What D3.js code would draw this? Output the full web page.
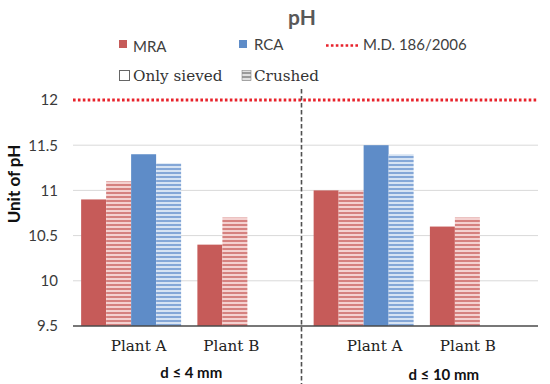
<!DOCTYPE html>
<html>
<head>
<meta charset="utf-8">
<script src="https://cdn.jsdelivr.net/npm/d3@7"></script>
<style>
  body { margin: 0; background: #fff; }
  svg { display: block; }
</style>
</head>
<body>
<div id="chart"></div>
<script>
// values
var categories = ["Plant A|4", "Plant B|4", "Plant A|10", "Plant B|10"];
var plantLabels = ["Plant A", "Plant B", "Plant A", "Plant B"];
var sizeLabels = ["d \u2264 4 mm", "d \u2264 10 mm"];
var seriesKeys = ["mraSieved", "mraCrushed", "rcaSieved", "rcaCrushed"];
var mraSieved = [10.9, 10.4, 11.0, 10.6];
var mraCrushed = [11.1, 10.7, 11.0, 10.7];
var rcaSieved = [11.4, null, 11.5, null];
var rcaCrushed = [11.3, null, 11.4, null];
var yTicks = [9.5, 10, 10.5, 11, 11.5, 12];
var limitValue = 12;

var w = 550, h = 384;
var plotLeft = 73, plotRight = 538, plotTop = 100, plotBottom = 326;

var seriesValues = {
    mraSieved: mraSieved,
    mraCrushed: mraCrushed,
    rcaSieved: rcaSieved,
    rcaCrushed: rcaCrushed
};
var red = "#C65B59", blue = "#5E8CC8";

var svg = d3.select("#chart").append("svg")
    .attr("width", w)
    .attr("height", h);

// striped fills for the crushed bars
var defs = svg.append("defs");
function stripes(id, dark, light) {
    var p = defs.append("pattern")
        .attr("id", id)
        .attr("patternUnits", "userSpaceOnUse")
        .attr("width", 4).attr("height", 4);
    p.append("rect").attr("width", 4).attr("height", 4).attr("fill", light);
    p.append("rect").attr("width", 4).attr("height", 2).attr("fill", dark);
}
stripes("redStripes", "#D5817F", "#F4D1D0");
stripes("blueStripes", "#84A7D7", "#D6E3F3");
stripes("grayStripes", "#9a9a9a", "#e0e0e0");

var fills = {
    mraSieved: red,
    mraCrushed: "url(#redStripes)",
    rcaSieved: blue,
    rcaCrushed: "url(#blueStripes)"
};

var x = d3.scaleBand()
    .domain(categories)
    .range([plotLeft, plotRight])
    .paddingInner(0.14)
    .paddingOuter(0.07);
var xs = d3.scaleBand()
    .domain(seriesKeys)
    .range([0, x.bandwidth()]);
var y = d3.scaleLinear()
    .domain([9.5, 12])
    .range([plotBottom, plotTop]);

// gridlines (12 is covered by the limit line)
svg.append("g")
    .selectAll("line")
    .data(yTicks.filter(function(d) { return d > 9.5 && d < limitValue; }))
    .enter().append("line")
    .attr("x1", plotLeft).attr("x2", plotRight)
    .attr("y1", function(d) { return y(d); })
    .attr("y2", function(d) { return y(d); })
    .attr("stroke", "#d9d9d9")
    .attr("stroke-width", 1);

// bars
var rows = [];
categories.forEach(function(c, i) {
    seriesKeys.forEach(function(k) {
        var v = seriesValues[k][i];
        if (v != null) rows.push({ cat: c, key: k, value: v });
    });
});
svg.append("g")
    .selectAll("rect")
    .data(rows)
    .enter().append("rect")
    .attr("x", function(d) { return x(d.cat) + xs(d.key); })
    .attr("y", function(d) { return y(d.value); })
    .attr("width", xs.bandwidth())
    .attr("height", function(d) { return y(9.5) - y(d.value); })
    .attr("fill", function(d) { return fills[d.key]; });

// y axis
var yAxis = svg.append("g")
    .attr("transform", "translate(" + plotLeft + ",0)")
    .call(d3.axisLeft(y).tickValues(yTicks).tickFormat(d3.format("~g")).tickSize(0).tickPadding(15));
yAxis.select(".domain").remove();
yAxis.selectAll("text")
    .attr("font-family", "Lato, 'Liberation Sans', sans-serif")
    .attr("font-size", 15)
    .attr("fill", "#3a3a3a");

// x baseline
svg.append("line")
    .attr("x1", plotLeft).attr("x2", plotRight)
    .attr("y1", y(9.5)).attr("y2", y(9.5))
    .attr("stroke", "#4a4a4a")
    .attr("stroke-width", 1.5);

// limit line M.D. 186/2006
svg.append("line")
    .attr("x1", plotLeft).attr("x2", plotRight)
    .attr("y1", y(limitValue)).attr("y2", y(limitValue))
    .attr("stroke", "#E8222B")
    .attr("stroke-width", 2.8)
    .attr("stroke-dasharray", "2.6 2.3");

// separator between size classes
var sepX = (x(categories[1]) + x.bandwidth() + x(categories[2])) / 2 - 4;
svg.append("line")
    .attr("x1", sepX).attr("x2", sepX)
    .attr("y1", 89).attr("y2", h)
    .attr("stroke", "#505050")
    .attr("stroke-width", 1.6)
    .attr("stroke-dasharray", "4.5 2.5");

// plant labels (placed as text boxes in the original)
var plantShift = [7.5, -16, 11, -12];
svg.append("g")
    .selectAll("text")
    .data(categories)
    .enter().append("text")
    .attr("x", function(d, i) { return x(d) + x.bandwidth() / 2 + plantShift[i]; })
    .attr("y", 351)
    .attr("text-anchor", "middle")
    .attr("font-family", "'DejaVu Serif', serif")
    .attr("font-size", 15.2)
    .attr("fill", "#222")
    .text(function(d, i) { return plantLabels[i]; });

// size class labels
var sizeX = [
    (x(categories[0]) + x(categories[1]) + x.bandwidth()) / 2 + 2,
    (x(categories[2]) + x(categories[3]) + x.bandwidth()) / 2 + 22
];
svg.append("g")
    .selectAll("text")
    .data(sizeLabels)
    .enter().append("text")
    .attr("x", function(d, i) { return sizeX[i]; })
    .attr("y", function(d, i) { return i ? 380 : 378; })
    .attr("text-anchor", "middle")
    .attr("font-family", "Lato, 'Liberation Sans', sans-serif")
    .attr("font-weight", "bold")
    .attr("font-size", 15)
    .attr("fill", "#111")
    .text(function(d) { return d; });

// y title
svg.append("text")
    .attr("transform", "translate(20,184) rotate(-90)")
    .attr("text-anchor", "middle")
    .attr("font-family", "Lato, 'Liberation Sans', sans-serif")
    .attr("font-weight", "bold")
    .attr("font-size", 17)
    .attr("fill", "#111")
    .text("Unit of pH");

// title
svg.append("text")
    .attr("x", 302).attr("y", 25)
    .attr("text-anchor", "middle")
    .attr("font-family", "Lato, 'Liberation Sans', sans-serif")
    .attr("font-weight", "bold")
    .attr("font-size", 21)
    .attr("fill", "#595959")
    .text("pH");

// legend
var legend = svg.append("g")
    .attr("font-family", "Lato, 'Liberation Sans', sans-serif")
    .attr("font-size", 15)
    .attr("fill", "#404040");
legend.append("rect").attr("x", 119).attr("y", 40).attr("width", 8).attr("height", 8).attr("fill", red);
legend.append("text").attr("x", 133).attr("y", 52).text("MRA");
legend.append("rect").attr("x", 239).attr("y", 40).attr("width", 8).attr("height", 8).attr("fill", blue);
legend.append("text").attr("x", 254).attr("y", 50).text("RCA");
legend.append("line")
    .attr("x1", 326).attr("x2", 360).attr("y1", 45.5).attr("y2", 45.5)
    .attr("stroke", "#E8222B").attr("stroke-width", 2.6).attr("stroke-dasharray", "2.6 2.3");
legend.append("text").attr("x", 363).attr("y", 50).text("M.D. 186/2006");

var legend2 = svg.append("g")
    .attr("font-family", "'DejaVu Serif', serif")
    .attr("font-size", 15.2)
    .attr("fill", "#333");
legend2.append("rect").attr("x", 119.5).attr("y", 70.5).attr("width", 10).attr("height", 10)
    .attr("fill", "#fff").attr("stroke", "#666").attr("stroke-width", 1);
legend2.append("text").attr("x", 133).attr("y", 81).text("Only sieved");
legend2.append("rect").attr("x", 242).attr("y", 70.5).attr("width", 9).attr("height", 10)
    .attr("fill", "url(#grayStripes)").attr("stroke", "#888").attr("stroke-width", 0.6);
legend2.append("text").attr("x", 254).attr("y", 81).text("Crushed");
</script>
</body>
</html>
